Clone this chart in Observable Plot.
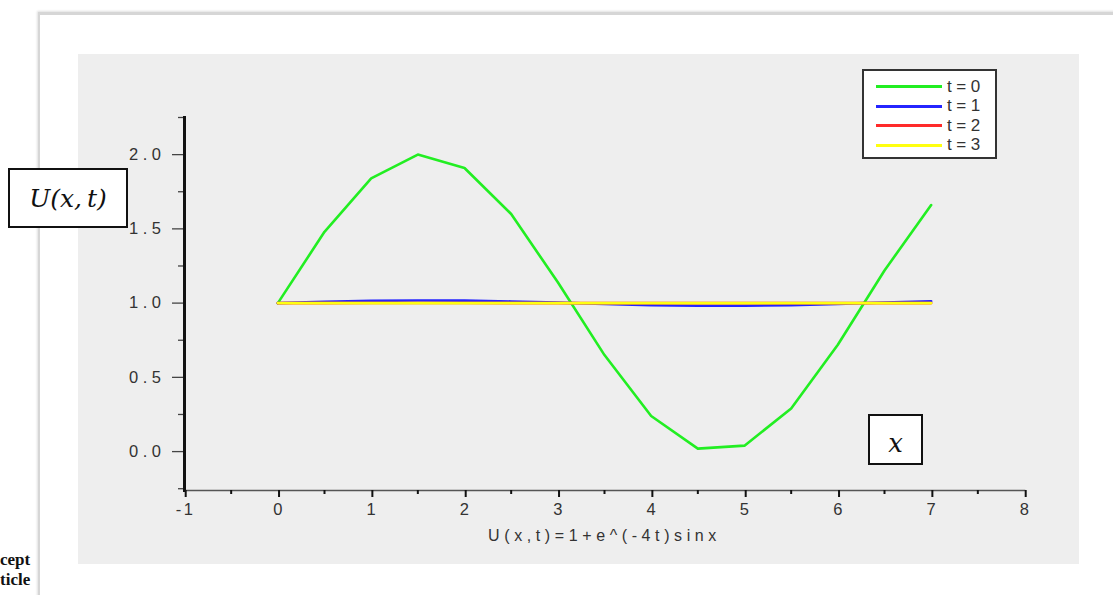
<!DOCTYPE html>
<html>
<head>
<meta charset="utf-8">
<script src="https://cdn.jsdelivr.net/npm/d3@7"></script>
<script src="https://cdn.jsdelivr.net/npm/@observablehq/plot@0.6"></script>
<style>
  html, body { margin: 0; padding: 0; background: #fff; width: 1113px; height: 595px; overflow: hidden; }
  #page { position: absolute; left: 38px; top: 12px; width: 1200px; height: 700px;
          border-left: 2px solid #d6d6d6; border-top: 3px solid #d6d6d6;
          box-shadow: -1px -1px 2px rgba(0,0,0,0.12); }
  #panel { position: absolute; left: 78px; top: 54px; width: 1001px; height: 510px; background: #eeeeee; }
  #chart { position: absolute; left: 0; top: 0; }
  #chart svg { background: transparent !important; }
  #chart g[aria-label="y-axis tick label"] text { font-size: 16.5px; letter-spacing: 4.5px; fill: #333; }
  #chart g[aria-label="x-axis tick label"] text { font-size: 16.5px; letter-spacing: 2.5px; fill: #333; }
  #chart g[aria-label="x-axis label"] text { font-size: 16px; letter-spacing: 4.6px; fill: #333; }
  .mbox { position: absolute; background: #fff; border: 2px solid #111; box-sizing: border-box;
          font-family: "DejaVu Serif", "Liberation Serif", serif; font-style: italic; color: #111;
          display: flex; align-items: center; justify-content: center; }
  #legend { position: absolute; left: 862px; top: 69px; width: 135px; height: 90px; box-sizing: border-box;
            border: 2px solid #333; background: #fff; font-family: "Liberation Sans", Arial, sans-serif;
            font-size: 17px; color: #333; letter-spacing: 4.5px; padding-top: 6px; }
  #legend .row { display: flex; align-items: center; height: 19.5px; }
  #legend .sw { width: 66px; height: 3px; margin-left: 12px; margin-right: 5px; }
  .frag { position: absolute; left: 0; font-family: "Liberation Serif", serif; font-weight: bold;
          font-size: 17px; line-height: 17px; color: #111; white-space: nowrap; }
</style>
</head>
<body>
<div id="page"></div>
<div id="panel"></div>
<div class="frag" style="top:551px;">cept</div>
<div class="frag" style="top:571px;">ticle</div>
<div id="chart"></div>
<div id="legend"></div>
<div class="mbox" id="ubox" style="left:8px;top:168px;width:120px;height:60px;font-size:25px;">U(x,&#8201;t)</div>
<div class="mbox" id="xbox" style="left:868px;top:414px;width:55px;height:51px;font-size:26px;padding-top:6px;">x</div>
<script>
// ---- data ----
const xs = [0, 0.5, 1, 1.5, 2, 2.5, 3, 3.5, 4, 4.5, 5, 5.5, 6, 6.5, 7];
const u_t0 = [1.00, 1.48, 1.84, 2.00, 1.91, 1.60, 1.14, 0.65, 0.24, 0.02, 0.04, 0.29, 0.72, 1.22, 1.66];
const u_t1 = [1.000, 1.009, 1.015, 1.018, 1.017, 1.011, 1.003, 0.994, 0.986, 0.982, 0.982, 0.986, 0.995, 1.004, 1.012];
const u_t2 = [1.0000, 1.0002, 1.0003, 1.0003, 1.0003, 1.0002, 1.0000, 0.9999, 0.9997, 0.9997, 0.9997, 0.9997, 0.9999, 1.0001, 1.0002];
const u_t3 = [1.000, 1.000, 1.000, 1.000, 1.000, 1.000, 1.000, 1.000, 1.000, 1.000, 1.000, 1.000, 1.000, 1.000, 1.000];
const seriesNames = ["t=0", "t=1", "t=2", "t=3"];
const seriesColors = ["#22ee22", "#2424ff", "#ff2a2a", "#ffff10"];
const xTicks = [-1, 0, 1, 2, 3, 4, 5, 6, 7, 8];
const yTicks = [0.0, 0.5, 1.0, 1.5, 2.0];
const xLabel = "U(x,t)=1+e^(-4t)sinx";

const allSeries = [u_t0, u_t1, u_t2, u_t3];
const rows = [];
allSeries.forEach((vals, si) => vals.forEach((v, i) => rows.push({x: xs[i], u: v, t: seriesNames[si]})));

const xMinor = d3.range(-0.5, 8, 1);
const yMinor = [-0.25, 0.25, 0.75, 1.25, 1.75, 2.25];

const chart = Plot.plot({
  width: 1113,
  height: 595,
  marginLeft: 184,
  marginRight: 89,
  marginTop: 117,
  marginBottom: 105,
  style: {background: "transparent", fontFamily: "Liberation Sans, Arial, sans-serif"},
  x: {domain: [-1, 8]},
  y: {domain: [-0.262, 2.25]},
  color: {domain: seriesNames, range: seriesColors},
  marks: [
    Plot.frame({anchor: "bottom", stroke: "#555", strokeWidth: 1.6}),
    Plot.axisX({ticks: xMinor, tickSize: 4, tickFormat: () => "", stroke: "#111", strokeWidth: 2, label: null}),
    Plot.axisX({ticks: xTicks, tickSize: 7, tickPadding: 6, stroke: "#111", strokeWidth: 2,
                fontSize: 16, dx: 1.2, tickFormat: d => d < 0 ? "-" + Math.abs(d) : String(d),
                label: xLabel, labelAnchor: "center", labelArrow: "none", labelOffset: 50}),
    Plot.axisY({ticks: yMinor, tickSize: 6, tickFormat: () => "", stroke: "#444", strokeWidth: 1.3, label: null}),
    Plot.axisY({ticks: yTicks, tickSize: 12, tickPadding: 7, stroke: "#444", strokeWidth: 1.3,
                fontSize: 16, tickFormat: d3.format(".1f"), label: null}),
    Plot.frame({anchor: "left", stroke: "#111", strokeWidth: 3}),
    Plot.line(rows, {x: "x", y: "u", z: "t", stroke: "t", strokeWidth: 2.6})
  ]
});
document.getElementById("chart").appendChild(chart);

// legend
const lg = document.getElementById("legend");
seriesNames.forEach((name, i) => {
  const r = document.createElement("div");
  r.className = "row";
  r.innerHTML = `<span class="sw" style="background:${seriesColors[i]}"></span><span>${name}</span>`;
  lg.appendChild(r);
});
</script>
</body>
</html>
